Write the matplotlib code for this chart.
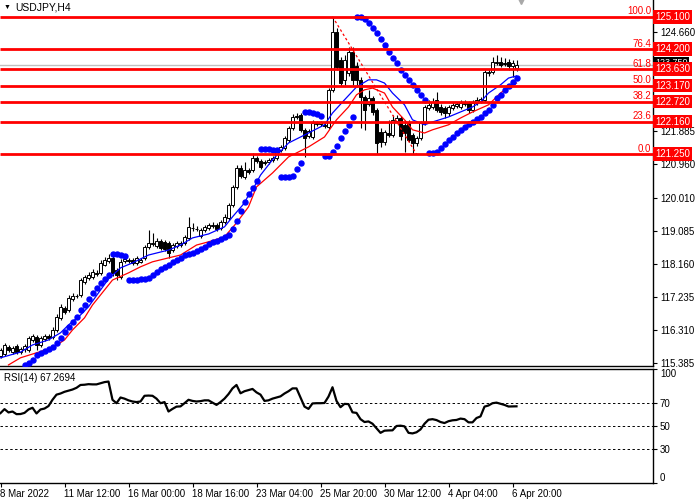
import numpy as np
import matplotlib
matplotlib.use("Agg")
import matplotlib.pyplot as plt
from matplotlib.transforms import blended_transform_factory

plt.rcParams['font.family'] = ['Liberation Sans', 'DejaVu Sans']

# ---------------- data ----------------
symbol_title = "USDJPY,H4"

opens = [
115.59,115.65,115.84,115.70,115.87,115.70,115.79,115.76,116.04,116.12,
115.90,116.07,116.15,116.12,116.32,116.66,116.94,116.88,117.19,117.27,
117.30,117.67,117.78,117.81,117.92,117.92,118.14,118.25,118.34,118.00,
117.81,118.25,118.28,118.28,118.20,118.23,118.34,118.65,118.73,118.68,
118.82,118.79,118.76,118.56,118.68,118.70,118.76,118.90,119.18,119.15,
118.96,119.12,119.18,119.24,119.26,119.18,119.35,119.46,119.82,120.33,
120.86,120.61,120.81,120.81,121.14,121.06,121.03,121.03,121.09,121.14,
121.37,121.42,121.65,121.98,122.29,122.35,121.93,121.76,121.73,122.09,
122.09,122.07,122.01,123.05,124.67,123.89,123.33,123.52,124.11,123.72,
123.33,122.85,122.65,122.82,122.49,121.87,121.59,121.84,121.79,122.18,
122.26,122.07,122.12,121.79,121.56,121.70,122.12,122.54,122.57,122.77,
122.57,122.54,122.40,122.54,122.60,122.57,122.65,122.68,122.49,122.68,
122.74,122.77,123.52,123.55,123.80,123.83,123.80,123.83,123.72,123.66]

highs = [
115.82,115.96,115.90,115.87,115.93,115.84,115.93,116.15,116.21,116.18,
116.15,116.21,116.21,116.40,116.77,117.05,116.99,117.30,117.36,117.33,
117.78,117.86,117.95,118.03,118.00,118.28,118.37,118.45,118.39,118.06,
118.31,118.37,118.34,118.34,118.39,118.34,118.70,119.12,119.04,118.90,
118.87,118.84,118.82,118.76,118.82,118.82,118.98,119.49,119.32,119.24,
119.18,119.26,119.32,119.35,119.32,119.40,119.57,119.88,120.38,120.95,
120.95,121.03,120.86,121.28,121.20,121.11,121.09,121.14,121.20,121.42,
121.51,121.76,122.04,122.38,122.40,122.40,121.98,121.95,122.21,122.18,
122.18,122.12,123.10,125.10,124.78,123.97,124.03,124.25,124.25,123.83,
123.41,122.91,123.05,122.88,122.54,121.98,121.93,122.21,122.35,122.35,
122.32,122.21,122.21,121.84,121.76,122.18,122.63,122.77,122.82,122.99,
122.65,122.60,122.63,122.71,122.71,122.77,122.77,122.74,122.77,122.85,
122.85,123.61,123.63,123.97,124.03,123.97,123.94,123.91,123.89,123.89]

lows = [
115.54,115.59,115.70,115.65,115.65,115.65,115.70,115.70,115.98,115.76,
115.84,116.01,116.04,116.07,116.26,116.60,116.77,116.83,117.13,117.22,
117.25,117.61,117.72,117.75,117.83,117.86,118.11,118.20,117.83,117.72,
117.75,118.20,118.20,118.14,118.14,118.20,118.28,118.59,118.68,118.62,
118.56,118.53,118.34,118.51,118.62,118.65,118.70,118.84,119.10,119.10,
118.90,119.07,119.12,119.18,119.10,119.12,119.29,119.40,119.77,120.27,
120.58,120.55,120.69,120.75,121.00,120.83,120.95,120.97,121.03,121.09,
121.31,121.37,121.59,121.93,122.23,121.87,121.17,121.70,121.67,122.04,
122.04,121.98,121.95,122.99,123.61,123.16,123.19,123.44,123.19,123.13,
121.98,121.93,122.60,122.35,121.25,121.45,121.51,121.73,121.73,122.12,
121.65,121.31,121.59,121.25,121.48,121.65,122.07,122.49,122.52,122.43,
122.35,122.26,122.32,122.49,122.54,122.52,122.60,122.40,122.43,122.63,
122.68,122.71,123.44,123.49,123.75,123.69,123.72,123.61,123.41,123.58]

closes = [
115.76,115.90,115.76,115.82,115.70,115.79,115.87,116.10,116.15,115.90,
116.10,116.15,116.10,116.32,116.69,116.97,116.83,117.22,117.27,117.26,
117.72,117.81,117.86,117.95,117.89,118.20,118.28,118.34,117.92,117.86,
118.23,118.31,118.25,118.20,118.34,118.28,118.65,118.76,118.76,118.82,
118.62,118.59,118.48,118.70,118.76,118.76,118.93,119.21,119.17,119.14,
119.12,119.21,119.26,119.26,119.15,119.35,119.49,119.82,120.33,120.86,
120.64,120.81,120.75,121.14,121.06,120.89,121.00,121.09,121.14,121.37,
121.45,121.70,121.98,122.29,122.32,121.93,121.70,121.90,122.12,122.12,
122.14,122.04,123.05,124.67,123.69,123.24,123.89,124.11,123.33,123.33,
122.85,122.49,122.82,122.43,121.56,121.59,121.87,121.79,122.21,122.26,
121.76,121.84,121.65,121.56,121.70,122.12,122.57,122.63,122.71,122.49,
122.43,122.40,122.57,122.63,122.64,122.68,122.69,122.49,122.68,122.77,
122.78,123.55,123.56,123.83,123.84,123.75,123.77,123.72,123.80,123.75]

nan = float('nan')
sar = [
nan,nan,nan,nan,nan,nan,115.34,115.40,115.48,115.62,
115.68,115.73,115.79,115.84,115.96,116.10,116.26,116.40,116.54,116.69,
116.88,117.02,117.19,117.36,117.50,117.64,117.75,117.86,118.45,118.45,
118.42,118.39,117.72,117.72,117.73,117.75,117.76,117.78,117.86,117.95,
118.03,118.09,118.14,118.23,118.28,118.34,118.42,118.45,118.48,118.53,
118.59,118.65,118.73,118.79,118.82,118.87,118.93,118.98,119.15,119.38,
119.66,119.91,120.13,120.30,120.50,121.39,121.39,121.38,121.37,121.35,
120.61,120.61,120.60,120.64,120.83,121.00,122.43,122.42,122.40,122.38,
122.32,121.20,121.20,121.31,121.48,121.70,121.90,122.07,122.29,125.10,
125.08,125.04,124.93,124.78,124.64,124.48,124.31,124.11,123.94,123.80,
123.61,123.47,123.33,123.19,123.05,122.91,122.77,121.28,121.28,121.31,
121.42,121.53,121.65,121.73,121.84,121.93,122.01,122.09,122.15,122.23,
122.29,122.40,122.49,122.63,122.82,122.91,123.05,123.16,123.27,123.38]

ma_blue_bars = [0,5,8,12,15,17,20,22,25,27,30,33,37,42,45,48,52,56,58,61,
                62,63,65,68,72,77,81,83,86,89,92,94,96,98,101,103,106,108,112,115,
                118,120,122,125,127,129]
ma_blue = [115.54,115.70,115.90,116.04,116.24,116.46,116.74,116.97,117.44,117.75,
           118.06,118.20,118.42,118.56,118.70,118.90,119.01,119.21,119.49,119.88,
           120.10,120.24,120.66,121.09,121.56,121.84,122.07,122.40,122.77,123.13,
           123.33,123.33,123.24,122.96,122.63,122.21,122.07,122.15,122.29,122.43,
           122.57,122.71,122.96,123.19,123.38,123.44]

ma_red_bars = [2,5,9,13,16,18,21,23,26,28,32,35,38,42,45,49,52,56,59,62,
               64,68,72,77,81,84,87,89,91,93,96,98,101,103,106,108,112,115,118,122,
               125,127,129]
ma_red = [115.34,115.54,115.68,115.82,116.04,116.32,116.66,117.02,117.44,117.72,
          117.92,118.09,118.23,118.34,118.42,118.70,118.79,118.93,119.32,119.77,
          120.33,120.72,121.17,121.45,121.73,122.21,122.57,122.91,123.05,123.10,
          122.96,122.57,122.21,121.93,121.84,121.93,122.07,122.26,122.43,122.63,
          122.96,123.13,123.24]

rsi = [
61.3,64.8,61.9,62.7,60.4,60.5,61.5,64.5,66.0,61.0,
64.5,65.3,67.5,73.0,77.5,78.5,80.0,81.0,82.0,83.5,
86.0,86.2,86.7,86.5,86.5,87.5,88.5,89.0,73.0,70.0,
75.0,74.0,72.5,71.5,71.0,71.5,76.5,76.7,76.5,74.0,
70.0,71.0,62.7,65.0,67.0,67.2,70.0,73.0,72.0,71.5,
71.8,72.5,72.5,70.5,68.5,71.0,74.0,78.0,83.0,86.0,
78.7,80.5,81.5,82.5,79.5,77.5,72.0,72.5,74.0,75.0,
76.0,78.5,80.5,83.0,83.0,75.0,67.0,65.0,69.8,70.0,
70.0,70.2,75.8,84.0,72.0,66.5,69.4,69.2,62.0,61.5,
56.0,53.5,54.0,52.0,48.0,44.0,45.9,46.1,46.2,50.0,
50.3,49.7,44.0,43.5,44.5,47.0,52.0,55.5,56.0,55.2,
53.5,52.6,54.2,55.0,55.3,56.5,56.0,53.2,53.2,57.0,
58.4,67.0,68.0,70.0,70.5,69.5,68.5,67.1,67.2,67.27]
rsi_label = "RSI(14) 67.2694"
rsi_levels = [30, 50, 70]

fib_levels = [125.10, 124.20, 123.63, 123.17, 122.72, 122.16, 121.25]
fib_pct = ["100.0", "76.4", "61.8", "50.0", "38.2", "23.6", "0.0"]
fib_price_labels = ["125.100", "124.200", "123.630", "123.170", "122.720", "122.160", "121.250"]
fib_trend_bars = [83, 104]
fib_trend_prices = [125.10, 121.25]

price_ticks = [115.385, 116.310, 117.235, 118.160, 119.085, 120.010, 120.960, 121.885, 124.660]
time_tick_bars = [0, 16, 32, 48, 64, 80, 96, 112, 128]
time_tick_labels = ["8 Mar 2022", "11 Mar 12:00", "16 Mar 00:00", "18 Mar 16:00",
                    "23 Mar 04:00", "25 Mar 20:00", "30 Mar 12:00", "4 Apr 04:00", "6 Apr 20:00"]

# ---------------- figure ----------------
W, H = 700, 499
fig = plt.figure(figsize=(W / 100, H / 100), dpi=100)
fig.patch.set_facecolor('white')

def px_rect(x0, y0, x1, y1):
    return [x0 / W, 1 - y1 / H, (x1 - x0) / W, (y1 - y0) / H]

ax = fig.add_axes(px_rect(0, 0, 653, 366))
axr = fig.add_axes(px_rect(0, 369, 653, 483))

o = np.array(opens); h = np.array(highs); l = np.array(lows); c = np.array(closes)
n = len(c)
idx = np.arange(n)
xmin, xmax = -0.125, 163.125

for a in (ax, axr):
    a.set_xlim(xmin, xmax)
    a.spines['left'].set_visible(False)
    for s in ('right', 'bottom', 'top'):
        a.spines[s].set_color('black')
        a.spines[s].set_linewidth(1.0)
    a.yaxis.tick_right()
    a.tick_params(axis='y', length=3, width=0.8, pad=2, labelsize=7, colors='black')
ax.spines['top'].set_visible(False)

ax.set_ylim(115.31, 125.568)

# bid line
ax.axhline(c[-1], color='#C0C0C0', lw=1.0, zorder=1)

# candles
ax.vlines(idx, l, h, color='black', lw=0.8, zorder=3)
up = c >= o
body_h = np.maximum(np.abs(c - o), 0.012)
ax.bar(idx, body_h, bottom=np.minimum(o, c), width=0.62,
       color=np.where(up, 'white', 'black'), edgecolor='black', linewidth=0.7,
       zorder=4)

# moving averages
ax.plot(ma_blue_bars, ma_blue, color='#0000FF', lw=0.9, zorder=5)
ax.plot(ma_red_bars, ma_red, color='#FF0000', lw=0.9, zorder=5)

# parabolic SAR
ax.plot(idx, sar, ls='none', marker='o', ms=3.6, color='#0000FF', mec='#0000FF', zorder=6)

# fibonacci
ax.hlines(fib_levels, xmin, xmax, colors='#FF0000', lw=2.0, zorder=7)
ax.plot(fib_trend_bars, fib_trend_prices, color='#FF0000', lw=0.9,
        ls=(0, (2, 2)), zorder=7)

trans = blended_transform_factory(ax.transAxes, ax.transData)
for lev, pct in zip(fib_levels, fib_pct):
    ax.annotate(pct, xy=(651 / 653, lev), xycoords=trans, xytext=(0, 1.6),
                textcoords='offset points', ha='right', va='baseline',
                color='#FF0000', fontsize=7, zorder=8)

# bid label (partially hidden by the fib price label, as in MetaTrader)
ax.text(1.0035, c[-1] + 0.07, f"{c[-1]:.3f}", transform=trans, ha='left', va='center',
        color='white', fontsize=6.5, zorder=8,
        bbox=dict(facecolor='black', edgecolor='none', pad=1.0))
for lev, lab in zip(fib_levels, fib_price_labels):
    ax.text(1.0035, lev, lab, transform=trans, ha='left', va='center',
            color='white', fontsize=7, zorder=9,
            bbox=dict(facecolor='#FF0000', edgecolor='none', pad=1.3))

ax.set_yticks(price_ticks)
ax.set_yticklabels([f"{t:.3f}" for t in price_ticks])
ax.set_xticks([])

# shift marker
ax.plot([n], [1.0], marker='v', ms=6, color='#A8A8A8',
        transform=blended_transform_factory(ax.transData, ax.transAxes),
        clip_on=False, zorder=9)

# title
fig.text(3.5 / W, 1 - 7.5 / H, "\u25BC", fontsize=5, va='center', ha='left', color='black')
fig.text(15 / W, 1 - 7.5 / H, symbol_title, fontsize=7.5, va='center', ha='left', color='black')

# ---------------- RSI ----------------
axr.set_ylim(0, 100)
axr.hlines(rsi_levels, xmin, xmax, colors='black', lw=0.7, linestyles=(0, (2.5, 2.5)))
axr.plot(idx, rsi, color='black', lw=1.6)
axr.text(4 / 653, 0.925, rsi_label, transform=axr.transAxes, ha='left', va='center',
         fontsize=7, color='black')
rsi_ticks = [0, 30, 50, 70, 100]
axr.set_yticks(rsi_ticks)
axr.set_yticklabels([str(t) for t in rsi_ticks])
lbls = axr.get_yticklabels()
lbls[0].set_va('bottom')
lbls[-1].set_va('top')

axr.set_xticks(time_tick_bars)
axr.set_xticklabels(time_tick_labels, ha='left')
axr.tick_params(axis='x', length=3, width=0.8, pad=1.5, labelsize=7, colors='black')

fig.savefig("out.png", dpi=100, facecolor='white')
